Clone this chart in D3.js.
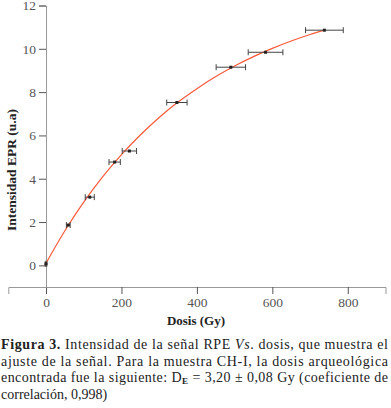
<!DOCTYPE html>
<html>
<head>
<meta charset="utf-8">
<script src="https://cdn.jsdelivr.net/npm/d3@7"></script>
<style>
  html, body { margin: 0; padding: 0; background: #fff; }
  svg { display: block; }
  svg text { font-family: "Liberation Serif", "Times New Roman", Times, "Tinos", "Nimbus Roman", serif; }
</style>
</head>
<body>
<svg id="chart" width="391" height="408"></svg>
<script>
// ---- data ----
const dose     = [0, 59, 116, 182, 221, 347, 490, 582, 738];          // Gy
const signal   = [0.07, 1.86, 3.15, 4.77, 5.28, 7.52, 9.15, 9.84, 10.86]; // u.a
const doseErr  = [2, 5, 12, 15, 19, 27, 39, 46, 50];                    // Gy (horizontal error)
// fitted curve
const fitDose   = [-3.2, 0, 50, 100, 150, 200, 250, 300, 350, 400, 450, 500, 550, 600, 650, 700, 738];
const fitSignal = [0, 0.10, 1.60, 2.92, 4.08, 5.11, 6.02, 6.83, 7.54, 8.16, 8.72, 9.21, 9.64, 10.02, 10.36, 10.66, 10.86];
const xMajorTicks = [0, 200, 400, 600, 800];
const xMinorTicks = [-100, 100, 300, 500, 700, 900];
const yMajorTicks = [0, 2, 4, 6, 8, 10, 12];
const yMinorTicks = [1, 3, 5, 7, 9, 11];
const xTitle = "Dosis (Gy)";
const yTitle = "Intensidad EPR (u.a)";

const svg = d3.select("#chart");

const x = d3.scaleLinear().domain([-100, 900]).range([8.3, 385.5]);
const y = d3.scaleLinear().domain([-1, 12]).range([287, 5.5]);

// ---- axes ----
const gx = svg.append("g").attr("transform", `translate(0,${y(-1)})`);
gx.call(d3.axisBottom(x).tickValues(xMinorTicks).tickSize(4).tickFormat(""));
gx.call(d3.axisBottom(x).tickValues(xMajorTicks).tickSize(7).tickPadding(3).tickFormat(d3.format("d")));
gx.selectAll(".domain").attr("stroke", "#999");
gx.selectAll(".tick line").attr("stroke", "#555");
gx.selectAll("text").attr("font-family", null).attr("font-size", 13.5).attr("fill", "#555");

const gy = svg.append("g").attr("transform", `translate(${x(0)},0)`);
gy.call(d3.axisLeft(y).tickValues(yMinorTicks).tickSize(3).tickFormat(""));
gy.call(d3.axisLeft(y).tickValues(yMajorTicks).tickSize(7).tickPadding(3).tickFormat(d3.format("d")));
gy.selectAll(".domain").attr("stroke", "#999");
gy.selectAll(".tick line").attr("stroke", "#555");
gy.selectAll("text").attr("font-family", null).attr("font-size", 13.5).attr("fill", "#555");
gx.attr("font-family", null);
gy.attr("font-family", null);

// ---- fitted curve ----
const line = d3.line().x((d, i) => x(fitDose[i])).y((d, i) => y(fitSignal[i])).curve(d3.curveMonotoneX);
svg.append("path")
  .datum(fitDose)
  .attr("d", line)
  .attr("fill", "none")
  .attr("stroke", "#f85a3a")
  .attr("stroke-width", 1.2);

// ---- error bars and points ----
const pts = dose.map((d, i) => ({ d, s: signal[i], e: doseErr[i] }));
const eb = svg.append("g").attr("stroke", "#444").attr("stroke-width", 1);
eb.selectAll("line.h").data(pts).join("line").attr("class", "h")
  .attr("x1", p => x(p.d - p.e)).attr("x2", p => x(p.d + p.e))
  .attr("y1", p => y(p.s)).attr("y2", p => y(p.s));
eb.selectAll("line.l").data(pts).join("line").attr("class", "l")
  .attr("x1", p => x(p.d - p.e)).attr("x2", p => x(p.d - p.e))
  .attr("y1", p => y(p.s) - 3).attr("y2", p => y(p.s) + 3);
eb.selectAll("line.r").data(pts).join("line").attr("class", "r")
  .attr("x1", p => x(p.d + p.e)).attr("x2", p => x(p.d + p.e))
  .attr("y1", p => y(p.s) - 3).attr("y2", p => y(p.s) + 3);
svg.append("g").selectAll("rect").data(pts).join("rect")
  .attr("x", p => x(p.d) - 1.5).attr("y", p => y(p.s) - 1.5)
  .attr("width", 3).attr("height", 3).attr("fill", "#222");

// ---- axis titles ----
svg.append("text")
  .attr("x", 196).attr("y", 325)
  .attr("text-anchor", "middle")
  .attr("font-size", 13).attr("font-weight", "bold").attr("fill", "#222")
  .text(xTitle);
svg.append("text")
  .attr("transform", "translate(16,170) rotate(-90)")
  .attr("text-anchor", "middle")
  .attr("font-size", 13.5).attr("font-weight", "bold").attr("fill", "#222")
  .text(yTitle);

// ---- caption ----
const cap = svg.append("g").attr("font-size", 14).attr("fill", "#222");
const l1 = cap.append("text").attr("x", 1).attr("y", 349).attr("textLength", 387).attr("lengthAdjust", "spacing");
l1.append("tspan").attr("font-weight", "bold").text("Figura 3.");
l1.append("tspan").text(" Intensidad de la señal RPE ");
l1.append("tspan").attr("font-style", "italic").text("Vs");
l1.append("tspan").text(". dosis, que muestra el");
cap.append("text").attr("x", 1).attr("y", 365.5).attr("textLength", 387).attr("lengthAdjust", "spacing")
  .text("ajuste de la señal. Para la muestra CH-I, la dosis arqueológica");
const l3 = cap.append("text").attr("x", 1).attr("y", 382).attr("textLength", 387).attr("lengthAdjust", "spacing");
l3.append("tspan").text("encontrada fue la siguiente: D");
l3.append("tspan").attr("font-size", 9).attr("font-weight", "bold").attr("dy", 2).text("E");
l3.append("tspan").attr("dy", -2).text(" = 3,20  ±  0,08 Gy (coeficiente de");
cap.append("text").attr("x", 1).attr("y", 398.5).text("correlación, 0,998)");
</script>
</body>
</html>
